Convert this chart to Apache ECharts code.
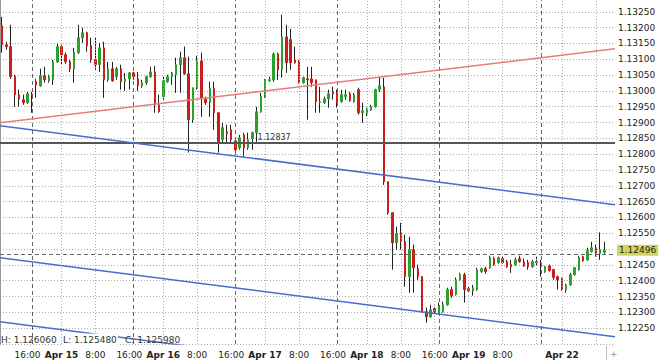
<!DOCTYPE html>
<html><head><meta charset="utf-8">
<script src="https://cdn.jsdelivr.net/npm/echarts@6/dist/echarts.min.js"></script>
<style>html,body{margin:0;padding:0;background:#fff}#c{width:660px;height:362px}</style>
</head><body><div id="c"></div>
<script>
// ---- data ----
const days = [['Apr 12',17,23],['Apr 15',0,23],['Apr 16',0,23],['Apr 17',0,23],['Apr 18',0,23],['Apr 19',0,23],['Apr 22',0,17]];
const categories = [];
days.forEach(([d,a,b])=>{for(let h=a;h<=b;h++)categories.push(d+' '+String(h).padStart(2,'0')+':00');});

const opens = [1.13206,1.13146,1.13140,1.13045,1.12988,1.12972,1.12963,1.12990,1.13029,1.13016,
1.13048,1.13032,1.13035,1.13092,1.13140,1.13114,1.13092,1.13070,1.13121,1.13168,
1.13184,1.13143,1.13098,1.13083,1.13136,1.13035,1.13070,1.13045,1.13070,1.13029,
1.13038,1.13057,1.13038,1.13016,1.13026,1.13045,1.13060,1.12956,1.12982,1.13029,
1.13045,1.13051,1.13083,1.13105,1.13054,1.12909,1.13010,1.13095,1.12975,1.12963,
1.13007,1.12931,1.12846,1.12871,1.12877,1.12842,1.12820,1.12861,1.12820,1.12849,
1.12868,1.12934,1.12982,1.13032,1.13035,1.13117,1.13067,1.13171,1.13162,1.13098,
1.13095,1.13026,1.13038,1.13038,1.13035,1.12963,1.12963,1.12975,1.12997,1.12994,
1.12966,1.12982,1.12991,1.12966,1.13004,1.12931,1.12928,1.12940,1.12950,1.13004,
1.13013,1.12713,1.12615,1.12520,1.12549,1.12523,1.12413,1.12498,1.12438,1.12413,
1.12302,1.12286,1.12312,1.12299,1.12302,1.12324,1.12372,1.12356,1.12403,1.12419,
1.12375,1.12368,1.12372,1.12429,1.12438,1.12441,1.12470,1.12457,1.12470,1.12460,
1.12451,1.12451,1.12470,1.12460,1.12457,1.12444,1.12460,1.12457,1.12429,1.12447,
1.12435,1.12413,1.12406,1.12372,1.12387,1.12419,1.12435,1.12476,1.12466,1.12492,
1.12504,1.12485,1.12490];
const closes = [1.13146,1.13140,1.13045,1.12988,1.12975,1.12963,1.12991,1.12986,1.13019,1.13048,
1.13035,1.13045,1.13092,1.13140,1.13114,1.13092,1.13070,1.13121,1.13168,1.13184,
1.13143,1.13098,1.13083,1.13136,1.13035,1.13070,1.13032,1.13070,1.13029,1.13038,
1.13057,1.13045,1.13016,1.13026,1.13045,1.13060,1.12956,1.12934,1.13032,1.13045,
1.13057,1.13083,1.13105,1.13054,1.12909,1.13010,1.13095,1.12975,1.12963,1.13007,
1.12931,1.12839,1.12884,1.12865,1.12846,1.12814,1.12852,1.12820,1.12846,1.12868,
1.12934,1.12982,1.13035,1.13035,1.13117,1.13067,1.13171,1.13089,1.13089,1.13089,
1.13026,1.13042,1.13035,1.13026,1.12966,1.12966,1.12975,1.12991,1.12991,1.12963,
1.12988,1.12988,1.12969,1.12988,1.12931,1.12937,1.12944,1.12950,1.13004,1.13016,
1.12713,1.12615,1.12520,1.12549,1.12523,1.12413,1.12498,1.12441,1.12413,1.12302,
1.12286,1.12308,1.12302,1.12321,1.12324,1.12372,1.12353,1.12403,1.12419,1.12372,
1.12368,1.12378,1.12435,1.12438,1.12429,1.12473,1.12451,1.12473,1.12457,1.12444,
1.12444,1.12466,1.12460,1.12447,1.12444,1.12460,1.12457,1.12455,1.12444,1.12432,
1.12410,1.12403,1.12372,1.12387,1.12419,1.12441,1.12473,1.12463,1.12495,1.12504,
1.12482,1.12498,1.12496];
const highs = [1.13234,1.13155,1.13209,1.13051,1.13004,1.12988,1.12997,1.12997,1.13038,1.13070,
1.13076,1.13051,1.13098,1.13149,1.13146,1.13121,1.13098,1.13136,1.13209,1.13200,
1.13187,1.13168,1.13168,1.13152,1.13155,1.13092,1.13092,1.13076,1.13083,1.13057,
1.13060,1.13060,1.13060,1.13035,1.13048,1.13076,1.13079,1.12988,1.13045,1.13051,
1.13060,1.13105,1.13124,1.13140,1.13108,1.13010,1.13111,1.13121,1.12982,1.13029,
1.13029,1.12931,1.12899,1.12893,1.12893,1.12846,1.12861,1.12868,1.12868,1.12871,
1.12950,1.12994,1.13038,1.13045,1.13121,1.13121,1.13241,1.13209,1.13196,1.13140,
1.13098,1.13045,1.13076,1.13076,1.13035,1.13013,1.12982,1.13004,1.13013,1.13004,
1.13004,1.13004,1.12997,1.12994,1.13010,1.12963,1.12947,1.12956,1.13007,1.13045,
1.13042,1.12713,1.12615,1.12571,1.12583,1.12545,1.12539,1.12514,1.12451,1.12413,
1.12315,1.12324,1.12318,1.12331,1.12334,1.12378,1.12381,1.12410,1.12425,1.12425,
1.12381,1.12387,1.12441,1.12441,1.12444,1.12479,1.12476,1.12476,1.12476,1.12466,
1.12466,1.12473,1.12479,1.12470,1.12466,1.12466,1.12476,1.12466,1.12447,1.12451,
1.12438,1.12416,1.12410,1.12391,1.12425,1.12444,1.12479,1.12479,1.12504,1.12523,
1.12514,1.12553,1.12523];
const lows = [1.13121,1.13130,1.13038,1.12950,1.12950,1.12956,1.12959,1.12931,1.12978,1.13013,
1.13026,1.13026,1.13019,1.13089,1.13083,1.13086,1.13060,1.13026,1.13117,1.13152,
1.13124,1.13089,1.13067,1.13060,1.12978,1.13029,1.13029,1.13035,1.13004,1.13000,
1.13004,1.13035,1.13000,1.13010,1.13019,1.13042,1.12931,1.12931,1.12972,1.13026,
1.13019,1.12994,1.12994,1.13051,1.12805,1.12899,1.13004,1.12918,1.12956,1.12918,
1.12877,1.12805,1.12836,1.12836,1.12836,1.12808,1.12814,1.12792,1.12814,1.12814,
1.12839,1.12931,1.12978,1.13029,1.13029,1.13035,1.13042,1.13057,1.13067,1.13086,
1.13023,1.13023,1.12909,1.13013,1.12931,1.12931,1.12959,1.12947,1.12972,1.12947,
1.12963,1.12972,1.12966,1.12963,1.12925,1.12899,1.12921,1.12937,1.12947,1.12997,
1.12703,1.12609,1.12435,1.12498,1.12498,1.12381,1.12362,1.12362,1.12403,1.12299,
1.12267,1.12283,1.12296,1.12293,1.12299,1.12321,1.12346,1.12353,1.12400,1.12331,
1.12365,1.12353,1.12368,1.12425,1.12422,1.12438,1.12447,1.12454,1.12454,1.12441,
1.12425,1.12447,1.12457,1.12444,1.12435,1.12441,1.12447,1.12413,1.12425,1.12429,
1.12403,1.12372,1.12368,1.12362,1.12384,1.12416,1.12432,1.12460,1.12463,1.12489,
1.12476,1.12466,1.12485];

// axis tick labels (category -> text)
const xTickLabels = {
  'Apr 12 23:00':'16:00','Apr 15 07:00':'Apr 15','Apr 15 15:00':'8:00','Apr 15 23:00':'16:00',
  'Apr 16 07:00':'Apr 16','Apr 16 15:00':'8:00','Apr 16 23:00':'16:00','Apr 17 07:00':'Apr 17',
  'Apr 17 15:00':'8:00','Apr 17 23:00':'16:00','Apr 18 07:00':'Apr 18','Apr 18 15:00':'8:00',
  'Apr 18 23:00':'16:00','Apr 19 07:00':'Apr 19','Apr 19 15:00':'8:00','Apr 22 05:00':'Apr 22'
};
const gridCats = ['Apr 15 07:00','Apr 15 15:00','Apr 16 07:00','Apr 16 15:00','Apr 17 07:00','Apr 17 15:00',
  'Apr 18 07:00','Apr 18 15:00','Apr 18 23:00','Apr 19 07:00','Apr 19 15:00','Apr 19 23:00','Apr 22 05:00','Apr 22 13:00'];
const daySeparators = ['Apr 15 00:00','Apr 16 00:00','Apr 17 00:00','Apr 18 00:00','Apr 19 00:00','Apr 22 00:00'];

// drawn objects (bar position, price)
const redTrend = [[0,1.12899],[145,1.13133]];
const blueUpper = [[0,1.12890],[145,1.12640]];
const blueLower = [[0,1.12473],[145,1.12223]];
const blueBottom = [[0,1.12270],[145,1.12020]];
const hLevel = 1.12837;
const lastPrice = 1.12496;
const dashLevel = 1.12485;
const infoTexts = ['H: 1.126060','L: 1.125480','C: 1.125980'];

// ---- chart ----
const FONT = 'DejaVu Sans';
const chart = echarts.init(document.getElementById('c'), null, {renderer:'svg'});
const wickData = opens.map((o,i)=>[o, closes[i], lows[i], highs[i]]);
const bodyData = opens.map((o,i)=>[o, closes[i], Math.min(o,closes[i]), Math.max(o,closes[i])]);
const idx = c => categories.indexOf(c);
const dotted = {color:'#aaa', width:1, type:[1,2]};
const trend = (data, color) => ({type:'line', xAxisIndex:1, yAxisIndex:0, data, symbol:'none', z:5, silent:true,
  lineStyle:{color, width:1.5}, clip:true, animation:false});

chart.setOption({
  animation:false,
  backgroundColor:'#fff',
  grid:{left:0, right:45, top:-4, bottom:18, containLabel:false, outerBoundsMode:'none'},
  xAxis:[{
    type:'category', data:categories, boundaryGap:true,
    axisLine:{show:false}, axisTick:{show:false}, splitLine:{show:false},
    axisLabel:{
      interval:(i,v)=> v in xTickLabels, margin:6, color:'#222', fontSize:9, fontFamily:FONT,
      formatter:v=>{const t=xTickLabels[v]||''; return t.startsWith('Apr')?'{b|'+t+'}':t;},
      rich:{b:{fontWeight:'bold', fontSize:9, fontFamily:FONT, color:'#222'}}
    }
  },{
    type:'value', min:0, max:145, show:false
  }],
  yAxis:{
    type:'value', position:'right', min:1.1220, max:1.1330, interval:0.0005, scale:true,
    axisLine:{show:true, lineStyle:{color:'#999'}}, axisTick:{show:false},
    splitLine:{show:true, lineStyle:dotted},
    axisLabel:{margin:3, color:'#222', fontSize:9, fontFamily:FONT, showMaxLabel:false, showMinLabel:false,
      formatter:v=>v.toFixed(5)}
  },
  series:[
    {type:'line', data:[], z:1, silent:true,
      markLine:{silent:true, precision:5, symbol:['none','none'], label:{show:false}, animation:false,
        data: gridCats.map(c=>({xAxis:idx(c), lineStyle:dotted}))
          .concat(daySeparators.map(c=>({xAxis:idx(c), lineStyle:{color:'#666', width:1, type:[4,3]}})))
          .concat([{yAxis:dashLevel, lineStyle:{color:'#666', width:1, type:[4,3]}},
                   {yAxis:hLevel, lineStyle:{color:'#555', width:2, type:'solid'}}])
      },
      markPoint:{silent:true, symbol:'circle', symbolSize:0, animation:false,
        data:[{coord:[idx('Apr 17 05:00'), hLevel], label:{show:true, position:'right', distance:1, offset:[0,-5],
          formatter:'1.12837', color:'#333', fontSize:8, fontFamily:FONT}}]}
    },
    {type:'candlestick', name:'wick', data:wickData, barWidth:1, z:3, silent:true,
      itemStyle:{color:'#222', color0:'#222', borderColor:'#222', borderColor0:'#222', borderWidth:1}},
    {type:'candlestick', name:'body', data:bodyData, barWidth:2, z:4, silent:true,
      itemStyle:{color:'#2ca02c', color0:'#c81e1e', borderColor:'#2ca02c', borderColor0:'#c81e1e', borderWidth:1}
    },
    {type:'line', data:[], z:8, silent:true,
      markLine:{silent:true, precision:5, symbol:['none','none'], animation:false,
        data:[{yAxis:lastPrice, lineStyle:{color:'rgba(0,0,0,0)', width:0},
          label:{show:true, position:'end', distance:2, formatter:lastPrice.toFixed(5),
            backgroundColor:'#d4d45c', color:'#222', padding:[1,2,1,2], fontSize:9, fontFamily:FONT}}]}
    },
    trend(redTrend, '#e57c7c'),
    trend(blueUpper, '#4a6ccc'),
    trend(blueLower, '#4a6ccc'),
    trend(blueBottom, '#4a6ccc')
  ],
  graphic:[
    {type:'text', x:1, y:340, z:10, style:{text:infoTexts[0], fill:'#333', font:'9px '+FONT, verticalAlign:'middle'}},
    {type:'text', x:62, y:340, z:10, style:{text:infoTexts[1], fill:'#333', font:'9px '+FONT, verticalAlign:'middle',
      backgroundColor:'#fff', padding:[3,1,1,1]}},
    {type:'text', x:125, y:340, z:10, style:{text:infoTexts[2], fill:'#333', font:'9px '+FONT, verticalAlign:'middle'}},
    {type:'line', z:10, shape:{x1:606.5, y1:346, x2:606.5, y2:360}, style:{stroke:'#bbb', lineWidth:1}},
    {type:'text', x:610, y:354, z:10, style:{text:'+', fill:'#999', font:'9px '+FONT, verticalAlign:'middle'}}
  ]
});
</script></body></html>
